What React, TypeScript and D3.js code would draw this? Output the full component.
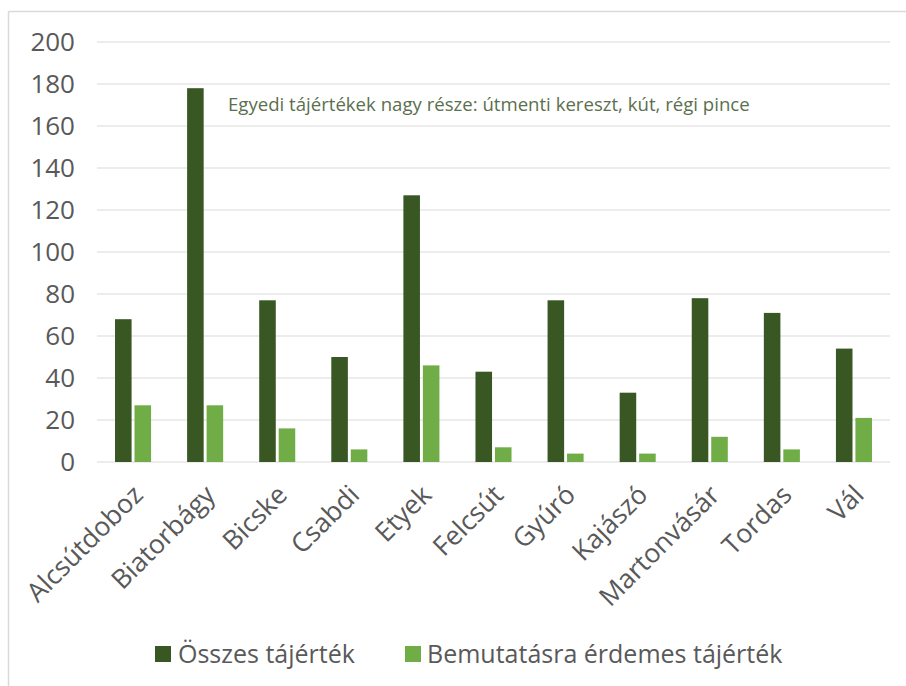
import React from "react";
import * as d3 from "d3";

const categories = ["Alcsútdoboz", "Biatorbágy", "Bicske", "Csabdi", "Etyek", "Felcsút", "Gyúró", "Kajászó", "Martonvásár", "Tordas", "Vál"];
const osszes = [68, 178, 77, 50, 127, 43, 77, 33, 78, 71, 54];
const bemutatasra = [27, 27, 16, 6, 46, 7, 4, 4, 12, 6, 21];
const seriesNames = ["Összes tájérték", "Bemutatásra érdemes tájérték"];
const seriesColors = ["#385723", "#70ad47"];
const yTicks = [0, 20, 40, 60, 80, 100, 120, 140, 160, 180, 200];
const annotation = "Egyedi tájértékek nagy része: útmenti kereszt, kút, régi pince";

const W = 906;
const H = 686;
const FONT = "'Open Sans', sans-serif";

export default function App() {
  const x0 = d3.scaleBand<string>().domain(categories).range([97, 890]).paddingInner(0.5).paddingOuter(0.25);
  const x1 = d3.scaleBand<string>().domain(seriesNames).range([0, x0.bandwidth()]).paddingInner(0.15);
  const y = d3.scaleLinear().domain([0, 200]).range([462, 42]);
  const seriesData = [osszes, bemutatasra];

  return (
    <svg width={W} height={H} style={{ position: "absolute", left: 0, top: 0, background: "#fff" }}>
      <rect x={0} y={0} width={W} height={H} fill="#fff" />
      {/* frame */}
      <line x1={8.5} x2={W} y1={11.5} y2={11.5} stroke="#d9d9d9" strokeWidth={1.5} />
      <line x1={8.5} x2={8.5} y1={11.5} y2={H} stroke="#d9d9d9" strokeWidth={1.5} />
      {/* gridlines */}
      {yTicks.map((t) => (
        <g key={t}>
          <line x1={97} x2={890} y1={y(t)} y2={y(t)} stroke="#d9d9d9" strokeWidth={1.2} />
          <text x={75} y={y(t)} dy="0.35em" textAnchor="end" fontFamily={FONT} fontSize={26} fill="#595959">
            {t}
          </text>
        </g>
      ))}
      {/* bars */}
      {categories.map((c, i) => (
        <g key={c} transform={`translate(${x0(c)},0)`}>
          {seriesNames.map((s, j) => (
            <rect
              key={s}
              x={x1(s)}
              y={y(seriesData[j][i])}
              width={x1.bandwidth()}
              height={y(0) - y(seriesData[j][i])}
              fill={seriesColors[j]}
            />
          ))}
        </g>
      ))}
      {/* x labels */}
      {categories.map((c) => {
        const cx = (x0(c) as number) + x0.bandwidth() / 2 + 5;
        return (
          <text
            key={c}
            transform={`translate(${cx},490) rotate(-45)`}
            textAnchor="end"
            dy="0.35em"
            fontFamily={FONT}
            fontSize={26.5}
            fill="#595959"
          >
            {c}
          </text>
        );
      })}
      {/* annotation */}
      <text x={228} y={104} dy="0.35em" fontFamily={FONT} fontSize={18.6} fill="#5b6f4e">
        {annotation}
      </text>
      {/* legend */}
      <g>
        <rect x={155} y={646} width={16} height={16} fill={seriesColors[0]} />
        <text x={178} y={654} dy="0.35em" fontFamily={FONT} fontSize={25} fill="#595959">
          {seriesNames[0]}
        </text>
        <rect x={405} y={646} width={16} height={16} fill={seriesColors[1]} />
        <text x={427} y={654} dy="0.35em" fontFamily={FONT} fontSize={25} fill="#595959">
          {seriesNames[1]}
        </text>
      </g>
    </svg>
  );
}
